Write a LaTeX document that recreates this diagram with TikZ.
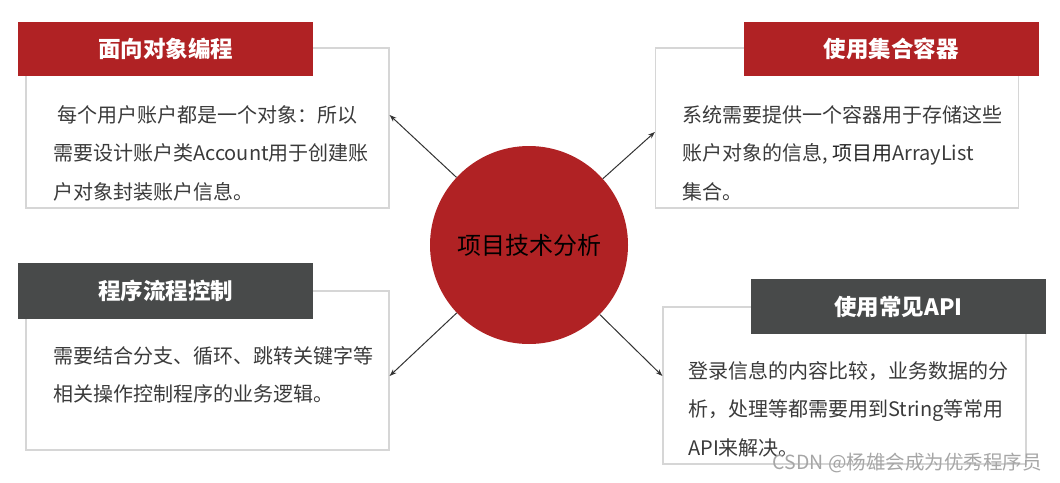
\documentclass[tikz,border=0pt]{standalone}
\usepackage{fontspec}
\setmainfont{Noto Sans CJK SC}
\usetikzlibrary{arrows.meta}
\definecolor{titlered}{RGB}{176,34,36}
\definecolor{titlegray}{RGB}{72,74,74}
\definecolor{boxline}{RGB}{214,214,214}
\definecolor{bodytext}{RGB}{58,58,58}

\begin{document}
\begin{tikzpicture}[x=1pt,y=-1pt,>={Stealth[length=7pt,width=5pt]},
  panel/.style={draw=boxline,line width=1.2pt,minimum width=363pt,minimum height=160pt,inner sep=0pt},
  redbar/.style={fill=titlered,text=white,minimum width=295pt,minimum height=54pt,inner sep=0pt,font=\fontsize{22.5}{26}\selectfont\bfseries},
  graybar/.style={redbar,fill=titlegray},
  body/.style={anchor=north west,inner sep=0pt,align=left,text=bodytext,font=\fontsize{20}{38.5}\selectfont},
  link/.style={->,draw=black!80,line width=1pt}]
\useasboundingbox (0,0) rectangle (1060,482);
\node[panel] (oopBox) at (207.5,128) {};
\node[panel] (listBox) at (837,128) {};
\node[panel,minimum height=159pt] (flowBox) at (207.5,370.5) {};
\node[panel,minimum height=157pt] (apiBox) at (844.5,385.5) {};
\node[redbar] (oopTitle) at (165.5,49) {面向对象编程};
\node[redbar] (listTitle) at (891,49) {使用集合容器};
\node[graybar,minimum height=56pt] (flowTitle) at (165.5,291) {程序流程控制};
\node[graybar,minimum height=55pt] (apiTitle) at (898.5,306.5) {使用常见API};
\node[body] (oopText) at (53,105) {\hspace{4pt}每个用户账户都是一个对象：所以\\需要设计账户类Account用于创建账\\户对象封装账户信息。};
\node[body] (listText) at (682,105) {系统需要提供一个容器用于存储这些\\账户对象的信息, {\color{black!85}项目用}ArrayList\\集合。};
\node[body] (flowText) at (53,346) {需要结合分支、循环、跳转关键字等\\相关操作控制程序的业务逻辑。};
\node[body] (apiText) at (688,361) {登录信息的内容比较，业务数据的分\\析，处理等都需要用到String等常用\\API来解决。};
\node[circle,fill=titlered,minimum size=198pt,inner sep=0pt,font=\fontsize{24}{28}\selectfont] (core) at (529,245) {项目技术分析};
\draw[link] (core) -- ([yshift=13pt]oopBox.east);
\draw[link] (core) -- ([yshift=-4pt]listBox.west);
\draw[link] (core) -- ([yshift=-5.5pt]flowBox.east);
\draw[link] (core) -- ([yshift=9.5pt]apiBox.west);
\node[anchor=east,inner sep=0pt,text=black!35,font=\fontsize{19.5}{22}\selectfont] (mark) at (1042,463) {CSDN @杨雄会成为优秀程序员};
\end{tikzpicture}
\end{document}
